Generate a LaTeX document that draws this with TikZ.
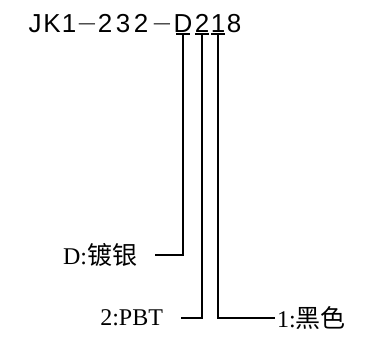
\documentclass[tikz,border=0pt]{standalone}
\usepackage{fontspec}
\setmainfont{Liberation Serif}
\newfontfamily\titlefont{Liberation Sans}
\newfontfamily\symfont{DejaVu Sans ExtraLight}[FakeBold=0]
\newfontfamily\cjk{Noto Sans CJK SC}
\newcommand{\mn}{{\symfont −}}
\usetikzlibrary{calc,positioning}
\tikzset{>=latex}
\tikzset{
  titlechar/.style={anchor=base, inner sep=0pt, font=\titlefont\fontsize{26}{26}\selectfont},
  codeline/.style={black, line width=2pt},
  leftlabel/.style={anchor=east, inner sep=0pt, outer xsep=18pt, font=\fontsize{24}{24}\selectfont},
  rightlabel/.style={anchor=west, inner sep=0pt, outer xsep=2pt, font=\fontsize{24}{24}\selectfont}
}

\begin{document}
\begin{tikzpicture}[x=1pt, y=1pt]
                        \useasboundingbox (0,0) rectangle (372,-343);

                        % the code, one character at a time
                        \foreach \x/\c [count=\n] in {35/J,52/K,69/1,87/\mn,105/2,123/3,141/2,162/\mn,183/D,202/2,218/1,234/8}
                        {
                        \node[titlechar] (c\n) at (\x,-32) {\c};
                        }

                        % the labels
                        \node[leftlabel] (plating) at (155,-255) {D:{\cjk\fontsize{25}{25}\selectfont 镀银}};
                        \node[leftlabel] (material) at (181,-318) {2:PBT};
                        \node[rightlabel] (colour) at (275,-318) {1:{\cjk\fontsize{25}{25}\selectfont 黑色}};

                        \foreach \n in {9,10,11}
                        {
                        \draw[codeline] ($(c\n.south)+(-7,-2)$) -- ($(c\n.south)+(7,-2)$);
                        }
                        \draw[codeline] ($(c9.south)+(0,-2)$) |- (plating.east);
                        \draw[codeline] ($(c10.south)+(0,-2)$) |- (material.east);
                        \draw[codeline] ($(c11.south)+(0,-2)$) |- (colour.west);
                    \end{tikzpicture}
\end{document}
